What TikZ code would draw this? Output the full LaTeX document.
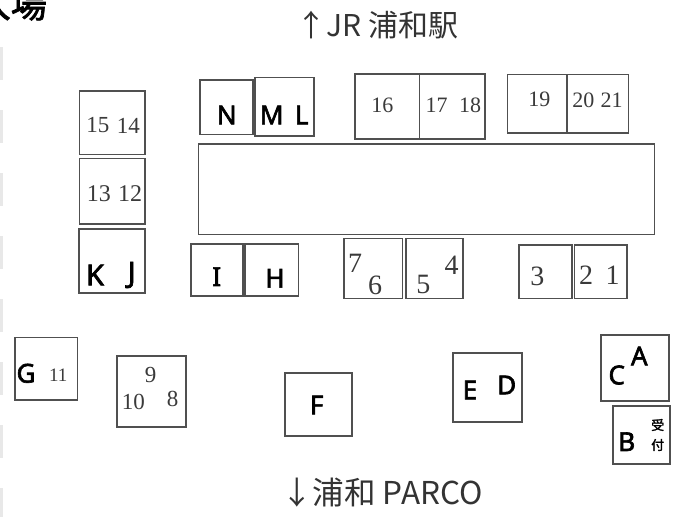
\documentclass[tikz,border=0pt]{standalone}
\usepackage{fontspec}
\setmainfont{Liberation Serif}
\newfontfamily\jpfont{Noto Sans CJK JP}
\newfontfamily\jpbold[FakeBold=2]{Noto Sans CJK JP}
\newfontfamily\letterfont[FakeBold=2.4]{Noto Sans}
\tikzset{%
    booth/.style 2 args={draw=boxgray, line width=1.6pt, inner sep=0pt, minimum width=#1, minimum height=#2},
    ltr/.style={inner sep=0pt, font=\letterfont\fontsize{#1}{#1}\selectfont},
    ltr/.default=26,
    num/.style={inner sep=0pt, text=numgray, font=\fontsize{#1}{#1}\selectfont},
    num/.default=23,
    caption/.style={inner sep=0pt, text=capgray, font=\jpfont\fontsize{#1}{#1}\selectfont},
}
\definecolor{boxgray}{HTML}{505050}
\definecolor{numgray}{HTML}{3A3A3A}
\definecolor{capgray}{HTML}{333333}

\begin{document}
\begin{tikzpicture}[x=1pt,y=-1pt]
    \useasboundingbox (0,0) rectangle (683,517);

    % cut-off heading and left edge
    \node[inner sep=0pt, anchor=base east, font=\jpbold\fontsize{36}{36}\selectfont] (title) at (47,17.5) {入場};
    \draw[gray!18, line width=3pt, dash pattern=on 33pt off 30pt] (1.5,47) coordinate (edgetop) -- (1.5,517) coordinate (edgebot);

    % stage
    \node[booth={456pt}{90.3pt}] (stage) at (426.3,189.2) {};

    % left column
    \node[booth={65.7pt}{63.6pt}] (b1514) at (112.2,122.5) {};
    \node[booth={65.7pt}{65.7pt}] (b1312) at (112.2,191.2) {};
    \node[booth={65.7pt}{63.7pt}, line width=2pt] (bKJ) at (112.2,260.9) {};
    \node[num] (n15) at (97.8,125) {15};
    \node[num] (n14) at (128.3,125.5) {14};
    \node[num=24] (n13) at (98.8,193.3) {13};
    \node[num=24] (n12) at (130.2,193.3) {12};
    \node[ltr=29] (lK) at (95,275) {K};
    \node[ltr=29] (lJ) at (131.7,275) {J};

    % upper row
    \node[booth={52.7pt}{54.3pt}] (bN) at (226.4,107.2) {};
    \node[booth={59pt}{58.7pt}] (bML) at (284.5,106.7) {};
    \node[booth={64.3pt}{65pt}] (b16) at (387.2,106.5) {};
    \node[booth={65.7pt}{65pt}] (b1718) at (452.2,106.5) {};
    \node[booth={59.4pt}{58.4pt}] (b19) at (537,103.5) {};
    \node[booth={61.6pt}{58.4pt}] (b2021) at (597.5,103.5) {};
    \node[ltr] (lN) at (226.7,115) {N};
    \node[ltr] (lM) at (271.7,115) {M};
    \node[ltr] (lL) at (301.7,115) {L};
    \node[num=22] (n16) at (382.3,105.7) {16};
    \node[num=22] (n17) at (436.7,105) {17};
    \node[num=22] (n18) at (470,105) {18};
    \node[num=22] (n19) at (539.3,99.3) {19};
    \node[num=22] (n20) at (583.3,100) {20};
    \node[num=22] (n21) at (611.7,100) {21};

    % lower row
    \node[booth={52pt}{51.7pt}] (bI) at (216.7,269.9) {};
    \node[booth={53.3pt}{51.7pt}] (bH) at (271.7,269.9) {};
    \node[booth={58.3pt}{60pt}] (b76) at (373.2,268.3) {};
    \node[booth={57pt}{60pt}] (b54) at (434.2,268.3) {};
    \node[booth={52.7pt}{53.3pt}] (b3) at (545.4,271.7) {};
    \node[booth={52.4pt}{53.3pt}] (b21) at (600.5,271.7) {};
    \node[ltr] (lI) at (216.7,276.7) {I};
    \node[ltr] (lH) at (275,278.3) {H};
    \node[num=28] (n7) at (355,263.3) {7};
    \node[num=28] (n6) at (375,285) {6};
    \node[num=28] (n5) at (423.3,284) {5};
    \node[num=28] (n4) at (451.7,265) {4};
    \node[num=28] (n3) at (537.3,276) {3};
    \node[num=28] (n2) at (586,275) {2};
    \node[num=28] (n1) at (612.7,275) {1};

    % loose booths
    \node[booth={62.3pt}{62.7pt}] (bG) at (46.2,368.7) {};
    \node[booth={69pt}{70.7pt}] (b9108) at (151.2,391.4) {};
    \node[booth={66.7pt}{62.7pt}, line width=2pt] (bF) at (318.4,404.7) {};
    \node[booth={69.6pt}{68.4pt}, line width=2pt] (bED) at (487.5,387.5) {};
    \node[booth={68.6pt}{66pt}, line width=2pt] (bCA) at (635,368) {};
    \node[booth={57.3pt}{58pt}] (bB) at (641.4,435) {};
    \node[ltr] (lG) at (26,373.3) {G};
    \node[num=19] (n11) at (58.3,375) {11};
    \node[num] (n9) at (150.7,375) {9};
    \node[num] (n10) at (133.3,401.7) {10};
    \node[num] (n8) at (172.7,399.3) {8};
    \node[ltr] (lF) at (316.7,405) {F};
    \node[ltr] (lE) at (470,390) {E};
    \node[ltr] (lD) at (506.7,385) {D};
    \node[ltr] (lC) at (616.7,375) {C};
    \node[ltr] (lA) at (639.3,356) {A};
    \node[ltr] (lB) at (626.7,441.7) {B};
    \node[inner sep=0pt, font=\jpbold\fontsize{13}{13}\selectfont] (uke) at (657.7,425) {受};
    \node[inner sep=0pt, font=\jpbold\fontsize{13}{13}\selectfont] (tsuke) at (657.7,445) {付};

    % directions
    \node[caption=30] (north) at (377.5,25) {↑JR 浦和駅};
    \node[caption=31.5] (south) at (382,493) {↓浦和 PARCO};
\end{tikzpicture}
\end{document}
